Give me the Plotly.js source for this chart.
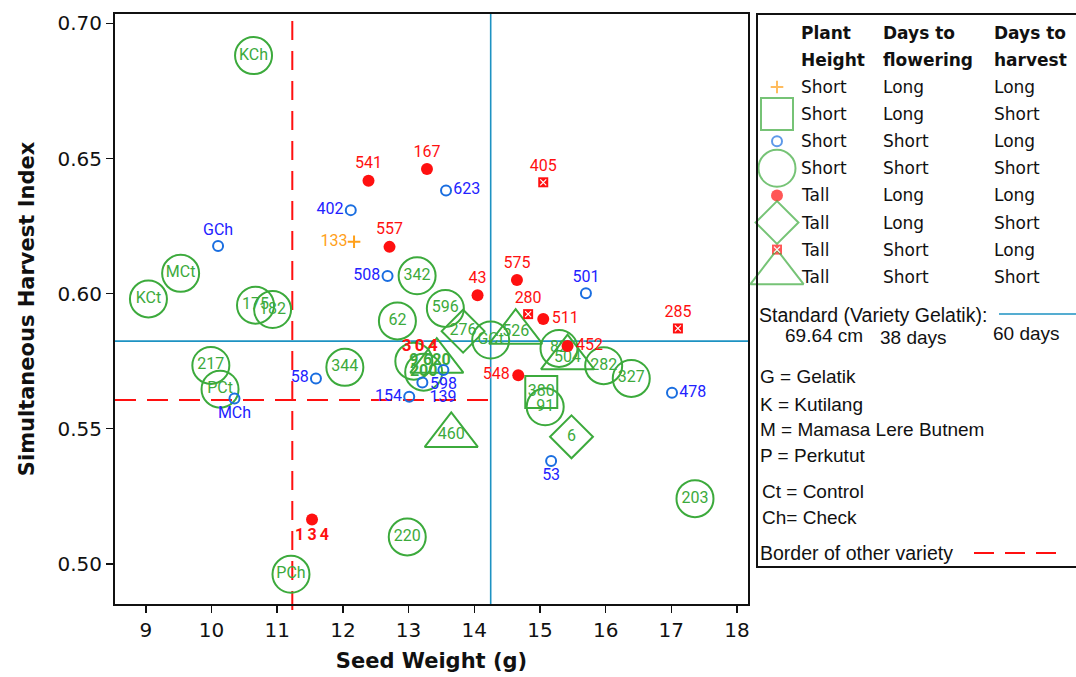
<!DOCTYPE html>
<html>
<head>
<meta charset="utf-8">
<script src="https://cdn.plot.ly/plotly-3.0.1.min.js"></script>
<style>
  html, body { margin: 0; padding: 0; background: #fff; }
  #chart { width: 1076px; height: 677px; }
</style>
</head>
<body>
<div id="chart"></div>
<script>
// ---------------- DATA ----------------
// Short plant height, long days to flowering, long days to harvest
const sllLabels = ['133'];
const sllX = [12.17];
const sllY = [0.6192];

// Short, long flowering, short harvest
const slsLabels = ['380'];
const slsX = [15.02];
const slsY = [0.5636];

// Short, short flowering, long harvest
const sslLabels = ['GCh', 'MCh', '402', '623', '508', '58', '154', '139', '598', '501', '478', '53'];
const sslX = [10.10, 10.35, 12.12, 13.57, 12.68, 11.59, 13.01, 13.21, 13.53, 15.70, 17.01, 15.17];
const sslY = [0.6176, 0.5612, 0.6309, 0.6382, 0.6065, 0.5686, 0.5618, 0.5671, 0.5717, 0.6001, 0.5633, 0.5380];

// Short, short flowering, short harvest
const sssLabels = ['KCh', 'MCt', 'KCt', '175', '182', '217', 'PCt', '344', '342', '62', '596', 'GCt', '82', '282', '327', '91', '220', 'PCh', '203', '9', '200'];
const sssX = [10.64, 9.53, 9.04, 10.67, 10.93, 9.99, 10.13, 12.03, 13.13, 12.83, 13.56, 14.25, 15.29, 15.97, 16.39, 15.08, 12.98, 11.21, 17.36, 13.08, 13.23];
const sssY = [0.6881, 0.6075, 0.5980, 0.5957, 0.5941, 0.5734, 0.5646, 0.5727, 0.6066, 0.5899, 0.5945, 0.5828, 0.5797, 0.5733, 0.5686, 0.5581, 0.5099, 0.4961, 0.5241, 0.5750, 0.5709];

// Tall, long flowering, long harvest
const tllLabels = ['541', '167', '557', '43', '575', '511', '452', '548', '134'];
const tllX = [12.39, 13.28, 12.71, 14.05, 14.65, 15.05, 15.42, 14.67, 11.53];
const tllY = [0.6418, 0.6461, 0.6173, 0.5994, 0.6050, 0.5906, 0.5806, 0.5698, 0.5164];

// Tall, long flowering, short harvest
const tlsLabels = ['276', '6'];
const tlsX = [13.83, 15.48];
const tlsY = [0.5861, 0.5470];

// Tall, short flowering, long harvest
const tslLabels = ['405', '280', '285'];
const tslX = [15.05, 14.82, 17.10];
const tslY = [0.6412, 0.5924, 0.5871];

// Tall, short flowering, short harvest
const tssLabels = ['526', '504', '460', '620'];
const tssX = [14.63, 15.42, 13.65, 13.43];
const tssY = [0.5857, 0.5763, 0.5475, 0.5750];

// label drawn without a visible marker
const looseLabels = ['304'];
const looseX = [13.17];
const looseY = [0.5802];

// reference lines
const standardSeedWeight = 14.25;
const standardHarvestIndex = 0.5824;
const borderSeedWeight = 11.23;
const borderHarvestIndex = 0.5606;

// axis ticks
const xTickVals = [9, 10, 11, 12, 13, 14, 15, 16, 17, 18];
const yTickVals = [0.50, 0.55, 0.60, 0.65, 0.70];

// legend texts
const legendHeader = [['Plant', 'Height'], ['Days to', 'flowering'], ['Days to', 'harvest']];
const standardTexts = ['Standard (Variety Gelatik):', '69.64 cm', '38 days', '60 days'];
const abbreviations = ['G = Gelatik', 'K = Kutilang', 'M = Mamasa Lere Butnem', 'P = Perkutut'];
const codes = ['Ct = Control', 'Ch= Check'];
const borderText = 'Border of other variety';

// ---------------- STYLE ----------------
const GREEN = '#3caa3c';
const RED = '#ff1010';
const BLUE = '#1a6ee0';
const BLUE_TXT = '#2222ff';
const ORANGE = '#ffa01a';
const TEAL = '#1d92c2';

const styles = {
  orangePlus:   {symbol: 'cross-thin-open', size: 9, color: ORANGE, lw: 2, txt: ORANGE},
  greenSquare:  {symbol: 'square-open', size: 32, color: GREEN, lw: 2, txt: GREEN},
  blueCircle:   {symbol: 'circle-open', size: 10, color: BLUE, lw: 2, txt: BLUE_TXT},
  greenCircle:  {symbol: 'circle-open', size: 37, color: GREEN, lw: 2, txt: GREEN},
  redDot:       {symbol: 'circle', size: 12, color: RED, lw: 0, txt: RED},
  greenDiamond: {symbol: 'diamond-open', size: 33, color: GREEN, lw: 2, txt: GREEN},
  redSquareX:   {symbol: 'square', size: 10, color: RED, lw: 0, txt: RED, inner: true},
  greenTriangle:{symbol: 'triangle-up-open', size: 46, color: GREEN, lw: 2, txt: GREEN}
};

const groups = [
  {h: 'Short', f: 'Long',  v: 'Long',  labels: sllLabels, x: sllX, y: sllY, st: styles.orangePlus,    order: 6},
  {h: 'Short', f: 'Long',  v: 'Short', labels: slsLabels, x: slsX, y: slsY, st: styles.greenSquare,   order: 2},
  {h: 'Short', f: 'Short', v: 'Long',  labels: sslLabels, x: sslX, y: sslY, st: styles.blueCircle,    order: 5},
  {h: 'Short', f: 'Short', v: 'Short', labels: sssLabels, x: sssX, y: sssY, st: styles.greenCircle,   order: 1},
  {h: 'Tall',  f: 'Long',  v: 'Long',  labels: tllLabels, x: tllX, y: tllY, st: styles.redDot,        order: 8},
  {h: 'Tall',  f: 'Long',  v: 'Short', labels: tlsLabels, x: tlsX, y: tlsY, st: styles.greenDiamond,  order: 3},
  {h: 'Tall',  f: 'Short', v: 'Long',  labels: tslLabels, x: tslX, y: tslY, st: styles.redSquareX,    order: 7},
  {h: 'Tall',  f: 'Short', v: 'Short', labels: tssLabels, x: tssX, y: tssY, st: styles.greenTriangle, order: 4}
];

// label placement for the small markers (style, not data)
const labelPos = {
  '133': 'middle left',
  'GCh': 'top center', 'MCh': 'bottom center', '402': 'middle left', '623': 'middle right',
  '508': 'middle left', '58': 'middle left', '154': 'middle left', '139': 'bottom right',
  '598': 'bottom center', '501': 'top center', '478': 'middle right', '53': 'bottom center',
  '541': 'top center', '167': 'top center', '557': 'top center', '43': 'top center',
  '575': 'top center', '511': 'middle right', '452': 'middle right', '548': 'middle left',
  '134': 'bottom center',
  '405': 'top center', '280': 'top center', '285': 'top center'
};
const boldSpaced = new Set(['304', '134']);
const boldPlain = new Set(['9', '620', '200']);
function display(l) {
  if (boldSpaced.has(l)) return '<b>' + l.split('').join('\u2009') + '</b>';
  if (boldPlain.has(l)) return '<b>' + l + '</b>';
  return l;
}

const LABEL_FONT = 'Roboto, "DejaVu Sans", sans-serif';
const AXIS_FONT = '"DejaVu Sans", "Liberation Sans", sans-serif';

// ---------------- TRACES ----------------
const traces = [];
groups.slice().sort((a, b) => a.order - b.order).forEach(g => {
  traces.push({
    type: 'scatter',
    mode: 'markers+text',
    x: g.x,
    y: g.y,
    text: g.labels.map(display),
    textposition: g.labels.map(l => labelPos[l] || 'middle center'),
    textfont: {family: LABEL_FONT, size: 16, color: g.st.txt},
    marker: {symbol: g.st.symbol, size: g.st.size, color: g.st.color,
             line: {color: g.st.color, width: g.st.lw}},
    cliponaxis: false,
    hoverinfo: 'skip',
    xaxis: 'x', yaxis: 'y'
  });
  if (g.st.inner) {
    // white cross inside the filled red square
    traces.push({
      type: 'scatter', mode: 'markers', x: g.x, y: g.y,
      marker: {symbol: 'x-thin-open', size: 6, color: '#ffffff', line: {color: '#ffffff', width: 1.2}},
      cliponaxis: false, hoverinfo: 'skip', xaxis: 'x', yaxis: 'y'
    });
  }
});
traces.push({
  type: 'scatter', mode: 'text',
  x: looseX, y: looseY,
  text: looseLabels.map(display),
  textposition: 'middle center',
  textfont: {family: LABEL_FONT, size: 17, color: RED},
  cliponaxis: false, hoverinfo: 'skip', xaxis: 'x', yaxis: 'y'
});

// ---------------- LEGEND PANEL (pixel-like axis x2/y2) ----------------
const ROW0 = 87, ROWSTEP = 27.1;
const rowY = i => ROW0 + ROWSTEP * i;
const SYM_X = 777, COL1 = 799, COL2 = 881, COL3 = 992;
const legendSymY = groups.map((g, i) => g.st.symbol.startsWith('triangle') ? rowY(i) - 4 : rowY(i));

traces.push({
  type: 'scatter', mode: 'markers',
  x: groups.map(() => SYM_X),
  y: legendSymY,
  marker: {
    symbol: groups.map(g => g.st.symbol),
    size: groups.map(g => g.st.size),
    color: groups.map(g => g.st.color),
    line: {color: groups.map(g => g.st.color), width: groups.map(g => g.st.lw)}
  },
  cliponaxis: false, hoverinfo: 'skip', xaxis: 'x2', yaxis: 'y2'
});
const innerIdx = groups.map((g, i) => g.st.inner ? i : -1).filter(i => i >= 0);
traces.push({
  type: 'scatter', mode: 'markers',
  x: innerIdx.map(() => SYM_X),
  y: innerIdx.map(i => legendSymY[i]),
  marker: {symbol: 'x-thin-open', size: 6, color: '#ffffff', line: {color: '#ffffff', width: 1.2}},
  cliponaxis: false, hoverinfo: 'skip', xaxis: 'x2', yaxis: 'y2'
});

const annotations = [];
function addText(text, x, y, font, size, bold) {
  annotations.push({
    xref: 'x2', yref: 'y2', x: x, y: y, xanchor: 'left', yanchor: 'middle',
    text: bold ? '<b>' + text + '</b>' : text, showarrow: false,
    font: {family: font, size: size, color: '#111'}
  });
}
const LEG_FONT = '"DejaVu Sans", sans-serif';
const LEG_FONT2 = '"Liberation Sans", Arial, sans-serif';
[COL1, COL2, COL3].forEach((cx, c) => {
  addText(legendHeader[c][0], cx, 33, LEG_FONT, 17, true);
  addText(legendHeader[c][1], cx, 60, LEG_FONT, 17, true);
});
groups.forEach((g, i) => {
  addText(g.h, COL1, rowY(i), LEG_FONT, 17, false);
  addText(g.f, COL2, rowY(i), LEG_FONT, 17, false);
  addText(g.v, COL3, rowY(i), LEG_FONT, 17, false);
});
addText(standardTexts[0], 757, 315, LEG_FONT2, 19.5, false);
addText(standardTexts[1], 783, 335, LEG_FONT2, 19, false);
addText(standardTexts[2], 878, 337, LEG_FONT2, 19, false);
addText(standardTexts[3], 991, 333, LEG_FONT2, 19, false);
abbreviations.forEach((t, i) => addText(t, 758, [376, 404, 429, 455][i], LEG_FONT2, 19, false));
codes.forEach((t, i) => addText(t, 760, [491, 517][i], LEG_FONT2, 19, false));
addText(borderText, 758, 553, LEG_FONT2, 19.5, false);

// ---------------- SHAPES ----------------
const X_RANGE = [8.531, 18.167];
const Y_RANGE = [0.4851, 0.7035];
const shapes = [
  {type: 'line', xref: 'x', yref: 'paper', x0: borderSeedWeight, x1: borderSeedWeight, y0: -0.01, y1: 1,
   line: {color: RED, width: 2, dash: '19px,11px'}, layer: 'below'},
  {type: 'line', xref: 'x', yref: 'y', x0: X_RANGE[0], x1: standardSeedWeight, y0: borderHarvestIndex, y1: borderHarvestIndex,
   line: {color: RED, width: 2, dash: '21px,11px'}, layer: 'below'},
  {type: 'line', xref: 'x', yref: 'paper', x0: standardSeedWeight, x1: standardSeedWeight, y0: 0, y1: 1,
   line: {color: TEAL, width: 1.6}, layer: 'below'},
  {type: 'line', xref: 'x', yref: 'y', x0: X_RANGE[0], x1: X_RANGE[1], y0: standardHarvestIndex, y1: standardHarvestIndex,
   line: {color: TEAL, width: 1.6}, layer: 'below'},
  // legend frame
  {type: 'rect', xref: 'paper', yref: 'paper', x0: (757 - 115) / 961, x1: 1.002, y0: (604 - 567) / 590, y1: 1,
   line: {color: '#111', width: 2}, fillcolor: 'rgba(0,0,0,0)'},
  // legend sample lines
  {type: 'line', xref: 'x2', yref: 'y2', x0: 999, x1: 1076, y0: 314, y1: 314, line: {color: TEAL, width: 1.6}},
  {type: 'line', xref: 'x2', yref: 'y2', x0: 974, x1: 1058, y0: 553, y1: 553, line: {color: RED, width: 2, dash: '20px,11px'}}
];

const layout = {
  width: 1076, height: 677,
  margin: {l: 115, r: 0, t: 14, b: 73, pad: 0},
  paper_bgcolor: '#ffffff', plot_bgcolor: '#ffffff',
  showlegend: false,
  xaxis: {
    domain: [0, 633 / 961], range: X_RANGE, tickvals: xTickVals,
    ticks: 'outside', ticklen: 7, tickwidth: 1.5, tickcolor: '#111',
    showline: true, linecolor: '#111', linewidth: 2, mirror: true,
    showgrid: false, zeroline: false,
    tickfont: {family: AXIS_FONT, size: 20, color: '#111'},
    title: {text: '<b>Seed Weight (g)</b>', font: {family: AXIS_FONT, size: 21, color: '#111'}, standoff: 12}
  },
  yaxis: {
    domain: [0, 1], range: Y_RANGE, tickvals: yTickVals, tickformat: '.2f',
    ticks: 'outside', ticklen: 7, tickwidth: 1.5, tickcolor: '#111',
    showline: true, linecolor: '#111', linewidth: 2, mirror: true,
    showgrid: false, zeroline: false,
    tickfont: {family: AXIS_FONT, size: 20, color: '#111'},
    title: {text: '<b>Simultaneous Harvest Index</b>', font: {family: AXIS_FONT, size: 21, color: '#111'}, standoff: 17}
  },
  xaxis2: {domain: [(757 - 115) / 961, 1], range: [757, 1076], anchor: 'y2', visible: false, fixedrange: true},
  yaxis2: {domain: [0, 1], range: [604, 14], anchor: 'x2', visible: false, fixedrange: true},
  shapes: shapes,
  annotations: annotations
};

Plotly.newPlot('chart', traces, layout, {staticPlot: true, displayModeBar: false});
</script>
</body>
</html>
